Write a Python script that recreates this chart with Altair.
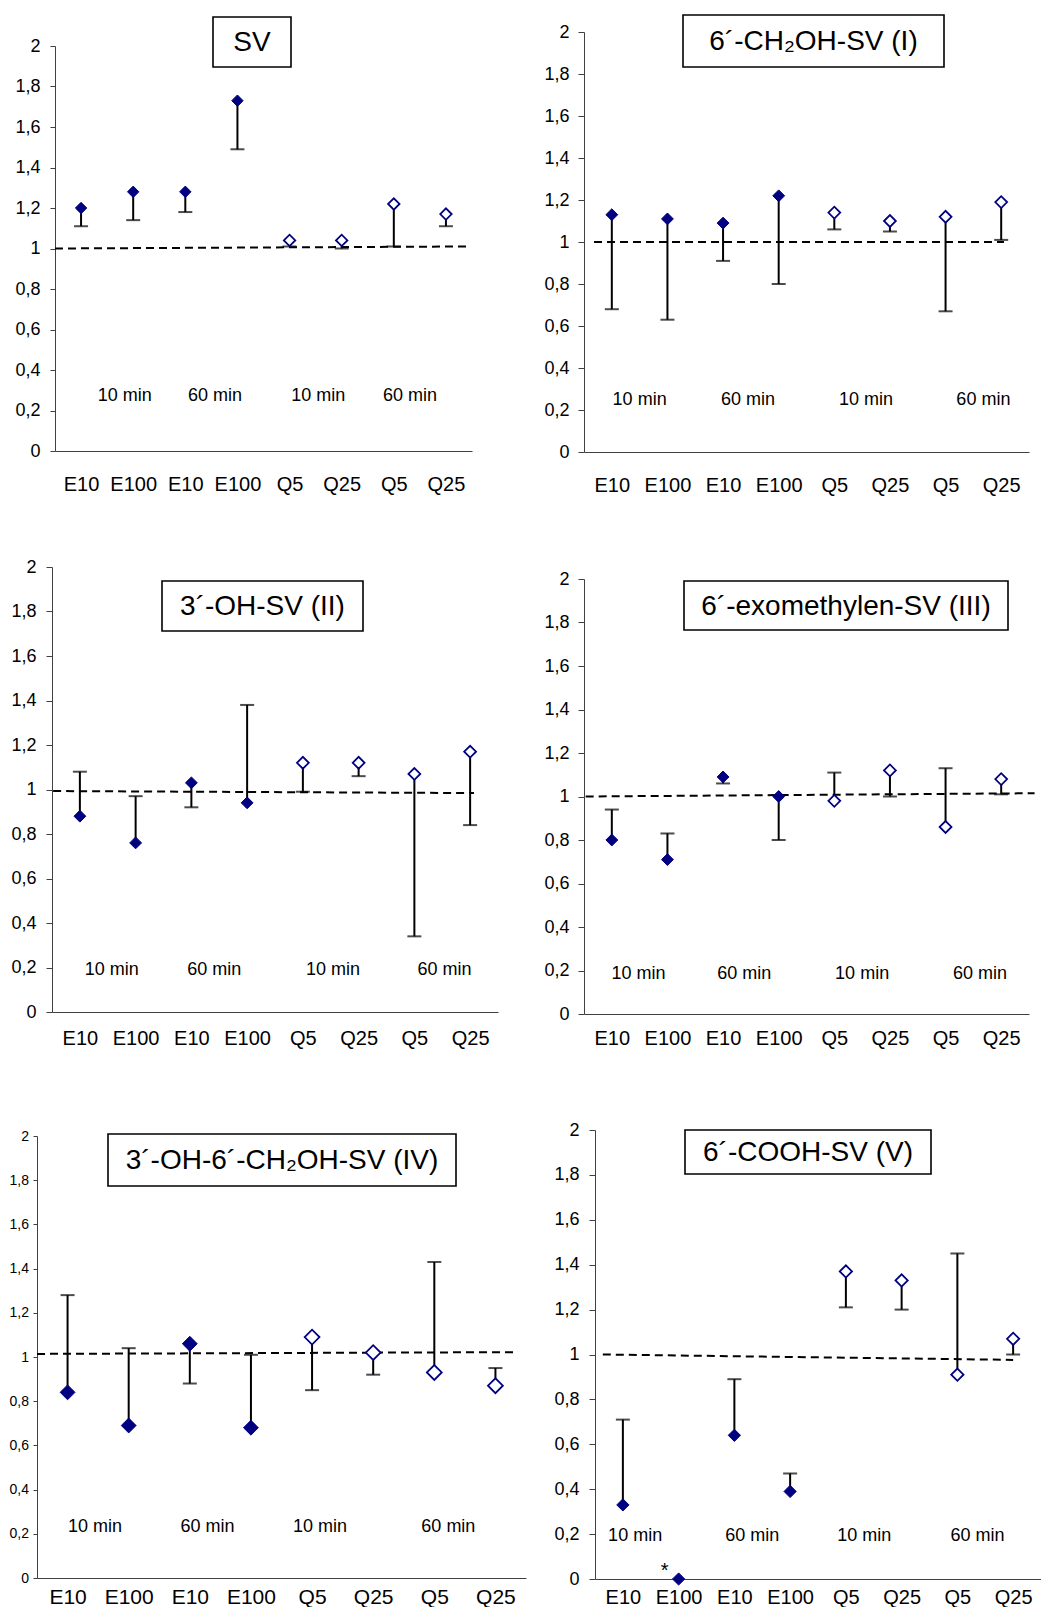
import json
import altair as alt
import pandas as pd

# ---------------- data ----------------
categories = ["E10", "E100", "E10", "E100", "Q5", "Q25", "Q5", "Q25"]
filled_flags = [True, True, True, True, False, False, False, False]
time_labels = ["10 min", "60 min", "10 min", "60 min"]

titles = ["SV", "6´-CH₂OH-SV (I)", "3´-OH-SV (II)",
          "6´-exomethylen-SV (III)", "3´-OH-6´-CH₂OH-SV (IV)", "6´-COOH-SV (V)"]

sv_vals = [1.20, 1.28, 1.28, 1.73, 1.04, 1.04, 1.22, 1.17]
sv_err = [1.11, 1.14, 1.18, 1.49, 1.01, 1.00, 1.01, 1.11]

i_vals = [1.13, 1.11, 1.09, 1.22, 1.14, 1.10, 1.12, 1.19]
i_err = [0.68, 0.63, 0.91, 0.80, 1.06, 1.05, 0.67, 1.01]

ii_vals = [0.88, 0.76, 1.03, 0.94, 1.12, 1.12, 1.07, 1.17]
ii_err = [1.08, 0.97, 0.92, 1.38, 0.99, 1.06, 0.34, 0.84]

iii_vals = [0.80, 0.71, 1.09, 1.00, 0.98, 1.12, 0.86, 1.08]
iii_err = [0.94, 0.83, 1.06, 0.80, 1.11, 1.00, 1.13, 1.01]

iv_vals = [0.84, 0.69, 1.06, 0.68, 1.09, 1.02, 0.93, 0.87]
iv_err = [1.28, 1.04, 0.88, 1.01, 0.85, 0.92, 1.43, 0.95]

v_vals = [0.33, 0.00, 0.64, 0.39, 1.37, 1.33, 0.91, 1.07]
v_err = [0.71, None, 0.89, 0.47, 1.21, 1.20, 1.45, 1.00]
v_marks = ["", "*", "", "", "", "", "", ""]

# reference (dashed) line: start x, start y, end x, end y (x in category units)
ref_lines = [
    [0.00, 1.000, 7.90, 1.010],
    [0.18, 1.000, 7.55, 1.000],
    [0.02, 0.993, 7.57, 0.984],
    [0.03, 1.000, 8.10, 1.015],
    [0.00, 1.014, 7.80, 1.022],
    [0.14, 1.000, 7.50, 0.976],
]

# "10 min / 60 min" annotation positions
label_x = [
    [1.34, 3.07, 5.05, 6.81],
    [1.00, 2.95, 5.07, 7.18],
    [1.07, 2.91, 5.04, 7.04],
    [0.98, 2.88, 5.00, 7.12],
    [0.95, 2.79, 4.63, 6.73],
    [0.72, 2.82, 4.83, 6.86],
]
label_y = [0.27, 0.25, 0.19, 0.185, 0.23, 0.19]

y_ticks = [0, 0.2, 0.4, 0.6, 0.8, 1.0, 1.2, 1.4, 1.6, 1.8, 2.0]

series_vals = [sv_vals, i_vals, ii_vals, iii_vals, iv_vals, v_vals]
series_err = [sv_err, i_err, ii_err, iii_err, iv_err, v_err]
series_marks = [[""] * 8, [""] * 8, [""] * 8, [""] * 8, [""] * 8, v_marks]

# ---------------- styling per panel ----------------
panel_cfg = [
    dict(w=417, h=405, yfs=18, ypad=10, ytick=5, xfs=20, xpad=23, box=(158, -29, 236, 21), ds=130),
    dict(w=445, h=420, yfs=18, ypad=9, ytick=6, xfs=20, xpad=23, box=(99, -17, 360, 35), ds=140),
    dict(w=446, h=445, yfs=18, ypad=10, ytick=6, xfs=20, xpad=16, box=(110, 14, 311, 64), ds=140),
    dict(w=445, h=435, yfs=18, ypad=9, ytick=6, xfs=20, xpad=14, box=(100, 2, 424, 51), ds=140),
    dict(w=489, h=442, yfs=14, ypad=4.5, ytick=4, xfs=21, xpad=8, box=(71, -2, 419, 50), ds=220),
    dict(w=446, h=449, yfs=18, ypad=10, ytick=6, xfs=20, xpad=8, box=(90, 0, 336, 44), ds=150),
]
# layout: (dx of row, spacing between panels, dy left, dy right)
row_layout = [
    (5, 71, 7, 5),
    (1, 45, 62, 74),
    (0, 27, 80, 72),
]

NAVY = "#000080"
AXIS_COLOR = "#404040"
FONT = "Liberation Sans"

x_positions = [i + 0.5 for i in range(len(categories))]
x_label_expr = json.dumps(categories) + "[floor(datum.value)]"
y_label_expr = ("abs(datum.value - round(datum.value)) < 0.001 ? format(datum.value, 'd') : "
                "replace(format(datum.value, '.1f'), '.', ',')")


def make_panel(k):
    cfg = panel_cfg[k]
    df = pd.DataFrame({
        "x": x_positions,
        "cat": categories,
        "y": series_vals[k],
        "err": [float("nan") if e is None else e for e in series_err[k]],
        "filled": filled_flags,
        "mark": series_marks[k],
    })
    x0, y0, x1, y1 = ref_lines[k]
    df_line = pd.DataFrame({"x": [x0, x1], "y": [y0, y1]})
    df_lab = pd.DataFrame({"x": label_x[k], "y": [label_y[k]] * 4, "t": time_labels})
    df_title = pd.DataFrame({"t": [titles[k]]})

    xs = alt.Scale(domain=[0, 8], nice=False, zero=False)
    ys = alt.Scale(domain=[0, 2], nice=False, zero=False)
    xaxis = alt.Axis(values=x_positions, labelExpr=x_label_expr, ticks=False, tickSize=0,
                     grid=False, title=None, labelFontSize=cfg["xfs"], labelPadding=cfg["xpad"],
                     labelOverlap=False, labelFlush=False, labelColor="black",
                     domainColor=AXIS_COLOR, labelFont=FONT)
    yaxis = alt.Axis(values=y_ticks, labelExpr=y_label_expr, grid=False, title=None,
                     tickSize=cfg["ytick"], labelFontSize=cfg["yfs"], labelPadding=cfg["ypad"],
                     labelColor="black", domainColor=AXIS_COLOR, tickColor=AXIS_COLOR,
                     labelFont=FONT, labelOverlap=False, labelFlush=False)
    X = alt.X("x:Q", scale=xs, axis=xaxis)
    Y = alt.Y("y:Q", scale=ys, axis=yaxis)

    line = alt.Chart(df_line).mark_line(color="black", strokeWidth=2, strokeDash=[8, 5]).encode(x=X, y=Y)

    base = alt.Chart(df)
    bars = base.transform_filter("isValid(datum.err)").mark_rule(color="black", strokeWidth=2).encode(
        x=X, y=Y, y2="err:Q")
    caps = base.transform_filter("isValid(datum.err)").mark_tick(
        color="black", thickness=2, size=14, orient="horizontal").encode(
        x=X, y=alt.Y("err:Q", scale=ys, axis=yaxis))
    pts_f = base.transform_filter("datum.filled").mark_point(
        shape="diamond", filled=True, fill=NAVY, stroke=NAVY, strokeWidth=1, size=cfg["ds"], opacity=1).encode(
        x=X, y=Y)
    pts_h = base.transform_filter("!datum.filled").mark_point(
        shape="diamond", filled=True, fill="white", stroke=NAVY, strokeWidth=1.8, size=cfg["ds"], opacity=1).encode(
        x=X, y=Y)
    stars = base.transform_filter("datum.mark != ''").mark_text(
        fontSize=20, font=FONT, dx=-14, dy=-8, color="black", baseline="middle").encode(
        x=X, y=Y, text="mark:N")
    labs = alt.Chart(df_lab).mark_text(fontSize=18, font=FONT, color="black", baseline="middle").encode(
        x=X, y=Y, text="t:N")

    bx0, by0, bx1, by1 = cfg["box"]
    box = alt.Chart(df_title).mark_rect(fill="white", stroke="black", strokeWidth=1.6).encode(
        x=alt.value(bx0), x2=alt.value(bx1), y=alt.value(by0), y2=alt.value(by1))
    ttl = alt.Chart(df_title).mark_text(fontSize=28, font=FONT, color="black", baseline="middle",
                                        align="center").encode(
        x=alt.value((bx0 + bx1) / 2), y=alt.value((by0 + by1) / 2 + 1), text="t:N")

    return alt.layer(line, bars, caps, pts_f, pts_h, stars, labs, box, ttl).properties(
        width=cfg["w"], height=cfg["h"])


def spacer():
    return alt.Chart(pd.DataFrame({"a": [0]})).mark_point(opacity=0, size=1).properties(width=1, height=1)


def vplace(panel, dy):
    return alt.concat(spacer(), panel, columns=1, align="none", spacing=dy)


panels = [make_panel(k) for k in range(6)]
rows = []
for r, (dx, sh, dyl, dyr) in enumerate(row_layout):
    inner = alt.concat(vplace(panels[2 * r], dyl), vplace(panels[2 * r + 1], dyr),
                       columns=2, align="none", spacing=sh)
    rows.append(alt.concat(spacer(), inner, columns=2, align="none", spacing=dx))

chart = alt.concat(*rows, columns=1, align="none", spacing=0).properties(
    padding={"left": 0, "top": 0, "right": 0, "bottom": 0}
).configure_view(stroke=None).configure_text(font=FONT)

chart.save("out.html", embed_options={"renderer": "svg", "actions": False})
